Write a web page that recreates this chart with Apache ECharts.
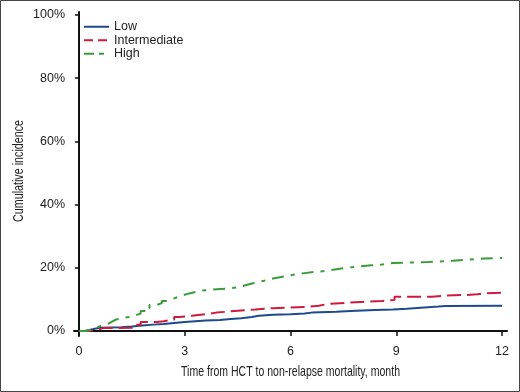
<!DOCTYPE html>
<html>
<head>
<meta charset="utf-8">
<script src="https://cdn.jsdelivr.net/npm/echarts@6/dist/echarts.min.js"></script>
<style>html,body{margin:0;padding:0;background:#fff}#c{width:520px;height:392px}</style>
</head>
<body>
<div id="c"></div>
<script>
const seriesNames = ['Low', 'Intermediate', 'High'];
const xTitle = 'Time from HCT to non-relapse mortality, month';
const yTitle = 'Cumulative incidence';
const xTicks = [0, 3, 6, 9, 12];
const yTicks = [0, 20, 40, 60, 80, 100];
const lowData = [[0,0],[0.15,0.3],[0.3,0.7],[0.45,1.0],[0.6,1.2],[1.2,1.4],[1.5,1.7],[1.8,2.0],[2.1,2.2],[2.4,2.5],[2.7,2.8],[3.0,3.1],[3.3,3.3],[3.6,3.5],[4.0,3.8],[4.3,4.0],[4.6,4.4],[4.9,4.8],[5.1,5.1],[5.5,5.3],[6.0,5.5],[6.4,5.8],[6.6,6.1],[7.3,6.3],[7.7,6.6],[8.4,6.8],[8.9,7.0],[9.3,7.3],[9.6,7.5],[9.9,7.7],[10.2,7.9],[10.4,8.0],[12,8.0]];
const intermediateData = [[0,0],[0.3,0.4],[0.5,0.9],[0.7,1.0],[1.5,1.3],[1.6,2.0],[1.75,2.8],[2.2,3.1],[2.4,3.6],[2.7,4.4],[2.85,4.8],[3.2,5.3],[3.6,5.8],[3.9,6.2],[4.3,6.5],[4.6,6.8],[5.0,7.2],[5.5,7.4],[6.0,7.6],[6.4,8.0],[6.8,8.6],[7.1,8.9],[7.6,9.2],[8.0,9.5],[8.6,9.8],[8.95,10.8],[10.0,11.2],[10.4,11.4],[11.0,11.6],[11.3,11.9],[11.5,12.1],[12,12.1]];
const highData = [[0,0],[0.2,0.3],[0.3,0.6],[0.4,1.0],[0.5,1.5],[0.6,2.0],[0.7,2.4],[0.85,3.0],[0.95,3.6],[1.05,4.2],[1.3,4.4],[1.45,4.9],[1.6,5.5],[1.75,6.3],[1.9,7.3],[2.0,8.2],[2.2,8.8],[2.35,9.5],[2.5,10.1],[2.65,10.7],[2.8,11.3],[2.95,11.8],[3.1,12.3],[3.3,12.8],[3.5,13.2],[3.9,13.4],[4.2,13.8],[4.5,14.4],[4.7,15.0],[4.9,15.5],[5.1,16.0],[5.3,16.6],[5.5,17.0],[5.7,17.4],[5.9,17.9],[6.15,18.3],[6.4,18.7],[6.7,19.0],[7.0,19.5],[7.3,20.0],[7.6,20.4],[7.9,20.8],[8.3,21.0],[8.6,21.5],[8.9,21.8],[9.9,22.2],[10.6,22.6],[11.0,22.9],[11.5,23.1],[12,23.1]];

const colors = ['#1d4a8c', '#cc1b3b', '#3a9c3a'];
const labelFont = '"Liberation Sans", Arial, Helvetica, sans-serif';
const titleFont = '14.5px "Liberation Sans", Arial, sans-serif';

// measure title widths to compress them horizontally (condensed look)
const mctx = document.createElement('canvas').getContext('2d');
mctx.font = titleFont;
const xTitleScale = 219 / mctx.measureText(xTitle).width;
const yTitleScale = 102 / mctx.measureText(yTitle).width;

const chart = echarts.init(document.getElementById('c'), null, {renderer: 'canvas'});
chart.setOption({
  animation: false,
  backgroundColor: '#fff',
  grid: {left: 74, right: 13, top: 12, bottom: 56, containLabel: false},
  legend: {
    orient: 'vertical', left: 83, top: 20, padding: 0, itemWidth: 25, itemHeight: 10, itemGap: 0,
    itemStyle: {opacity: 0},
    textStyle: {fontFamily: labelFont, fontSize: 12.5, color: '#222', lineHeight: 13.5},
    data: [
      {name: seriesNames[0]},
      {name: seriesNames[1], lineStyle: {type: [9, 5]}},
      {name: seriesNames[2], lineStyle: {type: [10, 5, 5, 5]}}
    ]
  },
  xAxis: {
    type: 'value', min: -0.14, max: 12.14,
    axisLine: {show: true, lineStyle: {color: '#111', width: 2}},
    axisTick: {show: true, length: 5, lineStyle: {color: '#111', width: 1.5}, customValues: xTicks},
    axisLabel: {fontFamily: labelFont, fontSize: 12.5, color: '#222', margin: 9, customValues: xTicks},
    splitLine: {show: false}
  },
  yAxis: {
    type: 'value', min: -1.6, max: 100.95,
    axisLine: {show: true, lineStyle: {color: '#111', width: 2}},
    axisTick: {show: true, length: 4, lineStyle: {color: '#111', width: 1.5}, customValues: yTicks},
    axisLabel: {fontFamily: labelFont, fontSize: 12.5, color: '#222', margin: 9, customValues: yTicks, formatter: v => Math.round(v) + '%'},
    splitLine: {show: false}
  },
  series: [
    {name: seriesNames[0], type: 'line', step: 'end', data: lowData, showSymbol: false, symbol: 'none',
     lineStyle: {color: colors[0], width: 2}, itemStyle: {color: colors[0]}},
    {name: seriesNames[1], type: 'line', step: 'end', data: intermediateData, showSymbol: false, symbol: 'none',
     lineStyle: {color: colors[1], width: 2, type: [14, 6]}, itemStyle: {color: colors[1]}},
    {name: seriesNames[2], type: 'line', step: 'end', data: highData, showSymbol: false, symbol: 'none',
     lineStyle: {color: colors[2], width: 2, type: [12, 7, 4, 7]}, itemStyle: {color: colors[2]}}
  ],
  graphic: [
    {type: 'rect', shape: {x: 0.5, y: 0.5, width: 519, height: 391}, style: {fill: null, stroke: '#444', lineWidth: 1}, silent: true},
    {type: 'text', x: 290.5, y: 372, scaleX: xTitleScale, silent: true,
     style: {text: xTitle, font: titleFont, fill: '#222', textAlign: 'center', textVerticalAlign: 'middle'}},
    {type: 'text', x: 18.5, y: 171, rotation: Math.PI / 2, scaleX: yTitleScale, silent: true,
     style: {text: yTitle, font: titleFont, fill: '#222', textAlign: 'center', textVerticalAlign: 'middle'}}
  ]
});
</script>
</body>
</html>
